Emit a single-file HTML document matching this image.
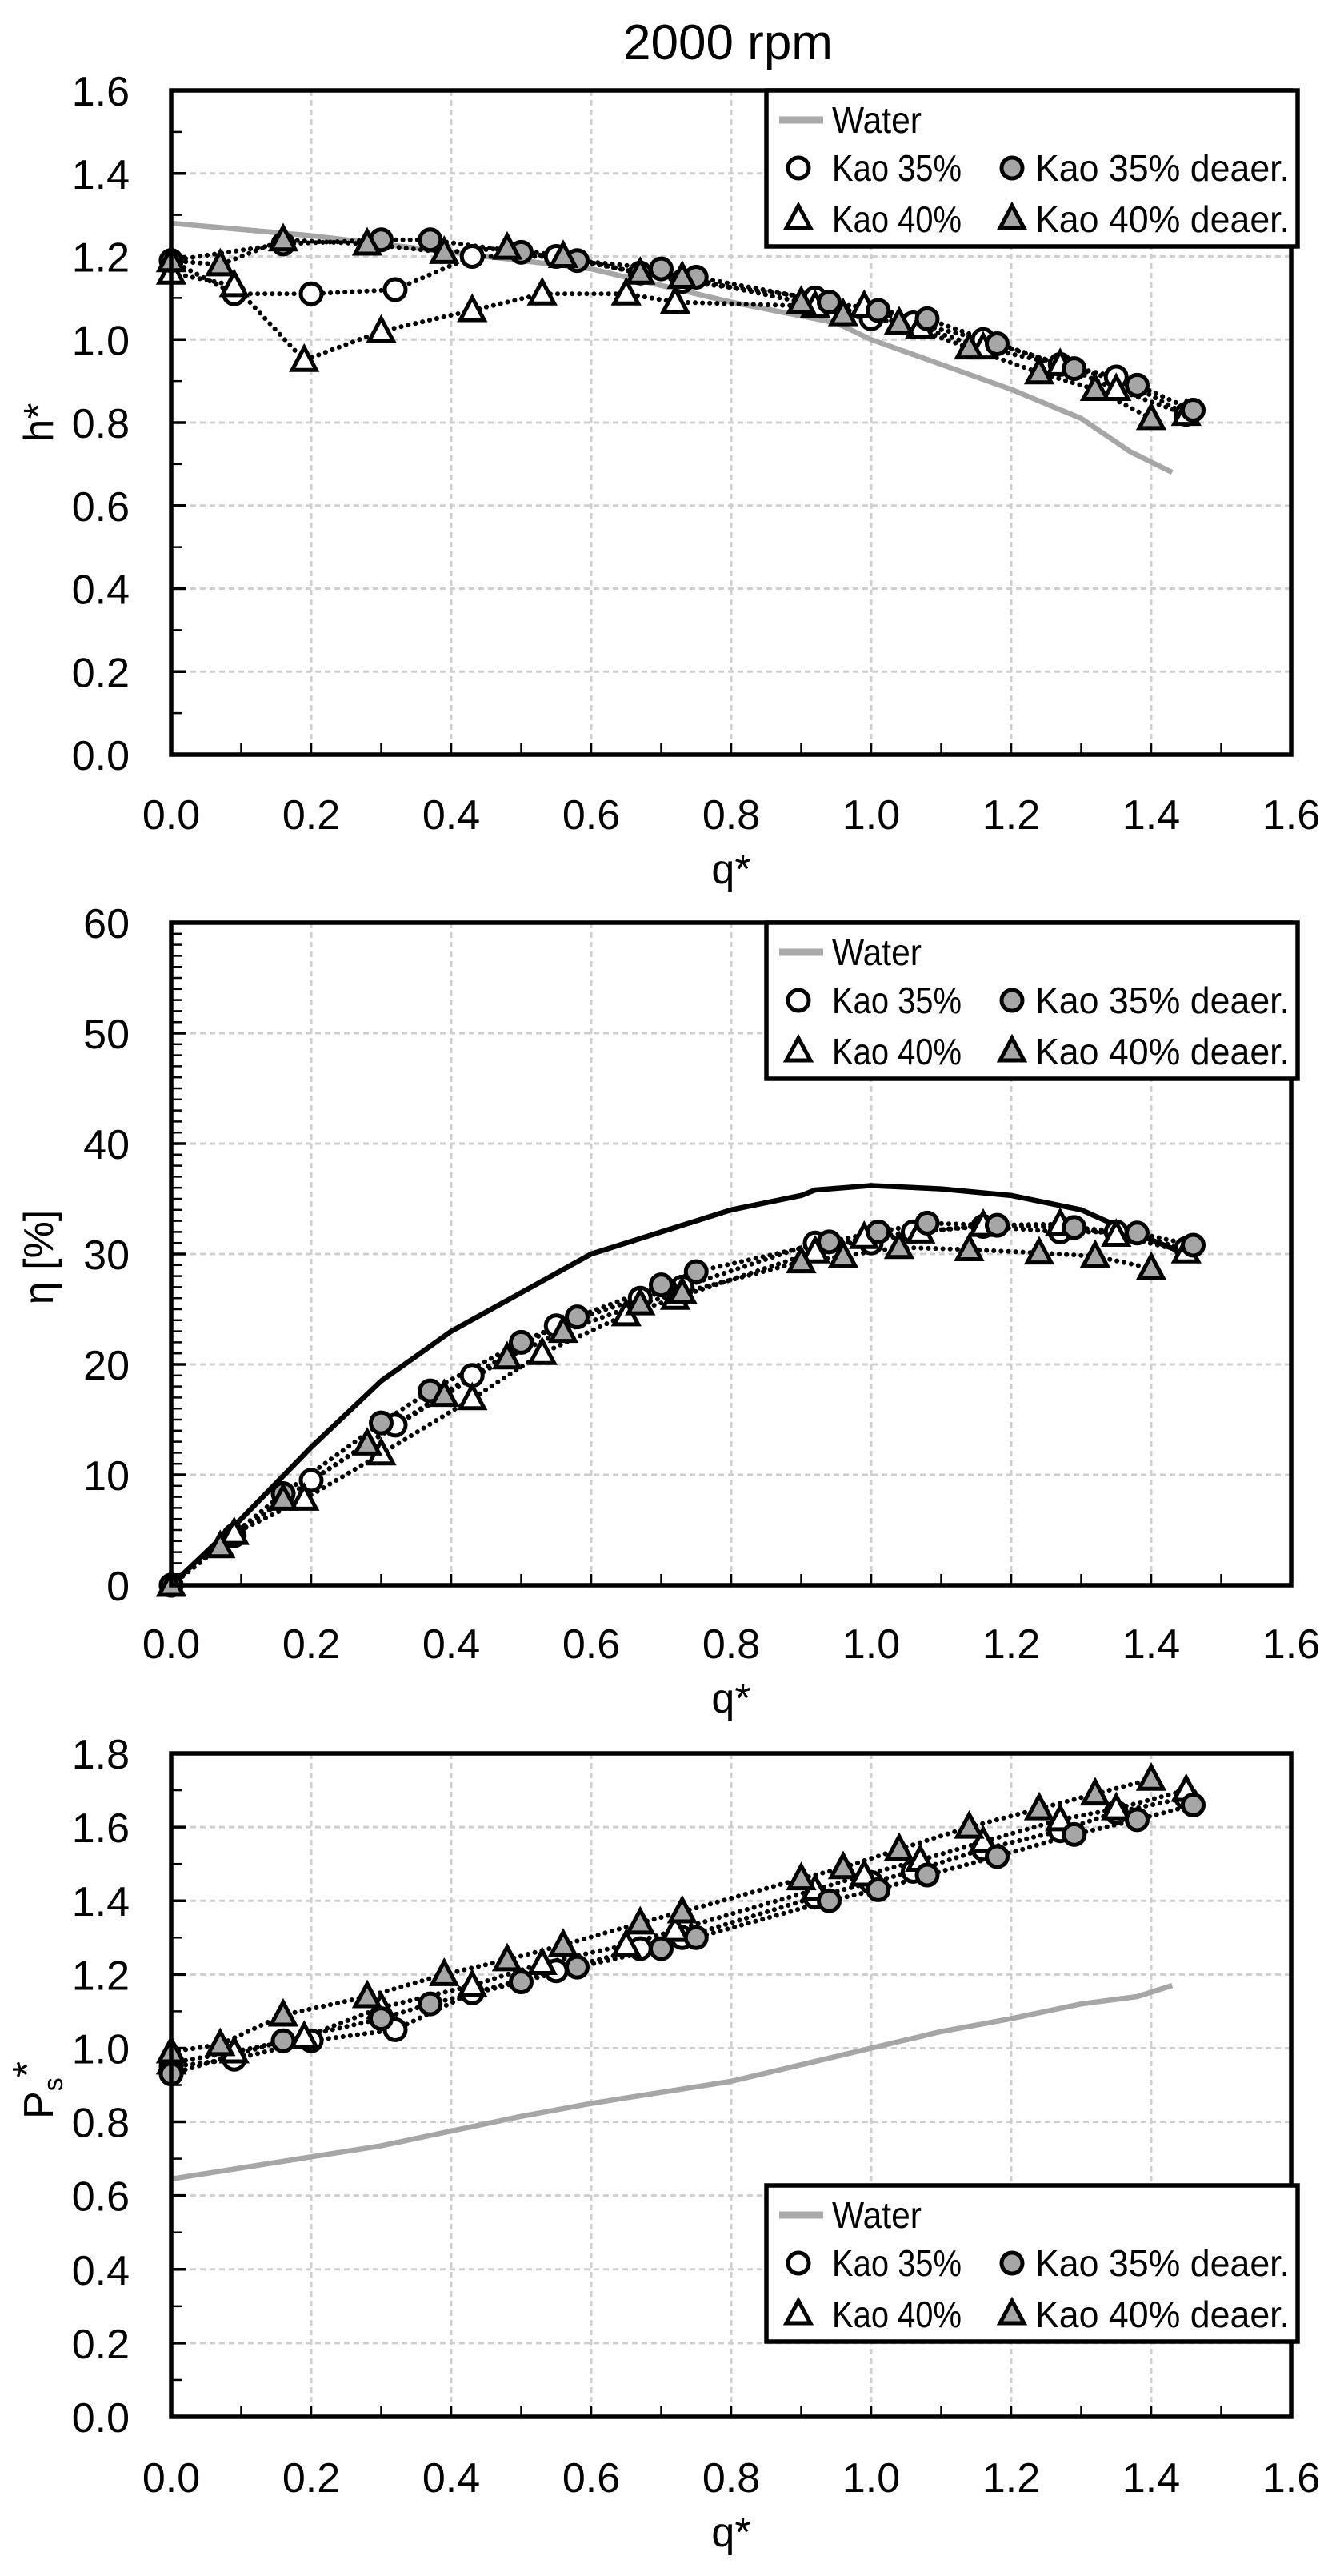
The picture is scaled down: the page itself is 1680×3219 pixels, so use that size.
<!DOCTYPE html>
<html><head><meta charset="utf-8"><style>
html,body{margin:0;padding:0;background:#fff;}
svg{display:block;}
text{font-family:"Liberation Sans",sans-serif;fill:#000;}
</style></head><body>
<svg id="s" width="1680" height="3219" xmlns="http://www.w3.org/2000/svg">
<text x="910" y="74" font-size="62" text-anchor="middle">2000 rpm</text>
</svg>
<script>
var S=document.getElementById('s'),NS='http://www.w3.org/2000/svg';
function el(t,a,txt){var e=document.createElementNS(NS,t);for(var k in a)e.setAttribute(k,a[k]);if(txt!=null)e.textContent=txt;S.appendChild(e);return e;}
var X0=214,XS=875;function X(q){return X0+q*XS;}
function chart(c){
 var top=c.top,bot=c.bot,Y=function(v){return bot-(v-c.ymin)/(c.ymax-c.ymin)*(bot-top);};
 for(var q=0.2;q<1.61;q+=0.2){if(q>1.59)continue;el('line',{x1:X(q),x2:X(q),y1:top,y2:bot,stroke:'#cfcfcf','stroke-width':3,'stroke-dasharray':'7 5'});}
 for(var v=c.ymin+c.ymaj;v<c.ymax-1e-9;v+=c.ymaj){el('line',{x1:X0,x2:X(1.6),y1:Y(v),y2:Y(v),stroke:'#cfcfcf','stroke-width':3,'stroke-dasharray':'7 5'});}
 for(var i=1;i<16;i++){el('line',{x1:X(i/10),x2:X(i/10),y1:bot,y2:bot-14,stroke:'#000','stroke-width':2.5});}
 var n=Math.round((c.ymax-c.ymin)/c.ymin2);
 for(var i=1;i<n;i++){var v=c.ymin+i*c.ymin2;var maj=Math.abs(v/c.ymaj-Math.round(v/c.ymaj))<1e-6;el('line',{x1:X0,x2:X0+(maj?18:14),y1:Y(v),y2:Y(v),stroke:'#000','stroke-width':maj?3.5:2.5});}
 for(var i=0;i<=8;i++){el('text',{x:X(i*0.2),y:c.xl,'font-size':52,'text-anchor':'middle'},(i*0.2).toFixed(1));}
 for(var v=c.ymin;v<=c.ymax+1e-9;v+=c.ymaj){el('text',{x:162,y:Y(v)+19,'font-size':52,'text-anchor':'end'},v.toFixed(c.dec));}
 el('text',{x:X(0.8),y:c.xl+68,'font-size':52,'text-anchor':'middle'},'q*');
 var yl=el('text',{x:0,y:0,'font-size':52,'text-anchor':'middle',transform:'translate(66,'+c.ylc+') rotate(-90)'});
 if(c.ps){var t1=document.createElementNS(NS,'tspan');t1.textContent='P';yl.appendChild(t1);var t2=document.createElementNS(NS,'tspan');t2.setAttribute('font-size','34');t2.setAttribute('dy','12');t2.textContent='s';yl.appendChild(t2);var t3=document.createElementNS(NS,'tspan');t3.setAttribute('dy','-26');t3.textContent='*';yl.appendChild(t3);}
 else yl.textContent=c.ylab;
 var p=c.water.map(function(d){return X(d[0])+','+Y(d[1]);}).join(' ');
 el('polyline',{points:p,fill:'none',stroke:c.wc,'stroke-width':6.5,'stroke-linejoin':'round'});
 var ser=c.ser;
 ser.forEach(function(s){el('polyline',{points:s.d.map(function(d){return X(d[0])+','+Y(d[1]);}).join(' '),fill:'none',stroke:'#000','stroke-width':6,'stroke-dasharray':'0.1 9','stroke-linecap':'round'});});
 ser.forEach(function(s){s.d.forEach(function(d){mk(s.t,X(d[0]),Y(d[1]));});});
 el('rect',{x:X0,y:top,width:X(1.6)-X0,height:bot-top,fill:'none',stroke:'#000','stroke-width':5.5});
 var lt=c.lt;
 el('rect',{x:958,y:lt,width:664,height:195,fill:'#fff',stroke:'#000','stroke-width':5.5});
 el('line',{x1:974,x2:1029,y1:lt+37,y2:lt+37,stroke:'#aaa','stroke-width':9});
 el('text',{x:1040,y:lt+53,'font-size':46,textLength:112,lengthAdjust:'spacingAndGlyphs'},'Water');
 mk('o',998,lt+97);el('text',{x:1040,y:lt+113,'font-size':46,textLength:162,lengthAdjust:'spacingAndGlyphs'},'Kao 35%');
 mk('og',1265,lt+97);el('text',{x:1294,y:lt+113,'font-size':46,textLength:318,lengthAdjust:'spacingAndGlyphs'},'Kao 35% deaer.');
 mk('t',998,lt+160);el('text',{x:1040,y:lt+177,'font-size':46,textLength:162,lengthAdjust:'spacingAndGlyphs'},'Kao 40%');
 mk('tg',1265,lt+160);el('text',{x:1294,y:lt+177,'font-size':46,textLength:318,lengthAdjust:'spacingAndGlyphs'},'Kao 40% deaer.');
}
function mk(t,x,y){
 var f=(t=='og'||t=='tg')?'#a6a6a6':'#fff';
 if(t[0]=='o')el('circle',{cx:x,cy:y,r:13,fill:f,stroke:'#000','stroke-width':5});
 else el('polygon',{points:(x)+','+(y-16)+' '+(x+15)+','+(y+12)+' '+(x-15)+','+(y+12),fill:f,stroke:'#000','stroke-width':5,'stroke-linejoin':'miter'});
}
chart({top:113,bot:943,ymin:0,ymax:1.6,ymaj:0.2,ymin2:0.1,dec:1,xl:1036,ylc:528,ylab:'h*',wc:'#a6a6a6',lt:113,
 water:[[0,1.28],[0.2,1.25],[0.45,1.2],[0.6,1.17],[0.8,1.09],[0.92,1.05],[0.95,1.04],[1.0,1.0],[1.1,0.94],[1.2,0.88],[1.3,0.81],[1.37,0.73],[1.43,0.68]],
 ser:[
 {t:'o',d:[[0,1.19],[0.09,1.11],[0.2,1.11],[0.32,1.12],[0.43,1.2],[0.55,1.2],[0.67,1.16],[0.73,1.14],[0.92,1.1],[1.0,1.05],[1.06,1.04],[1.16,1.0],[1.27,0.94],[1.35,0.91],[1.45,0.82]]},
 {t:'t',d:[[0,1.16],[0.09,1.13],[0.19,0.95],[0.3,1.02],[0.43,1.07],[0.53,1.11],[0.65,1.11],[0.72,1.09],[0.92,1.08],[0.99,1.08],[1.07,1.03],[1.16,0.98],[1.27,0.94],[1.35,0.88],[1.45,0.82]]},
 {t:'og',d:[[0,1.19],[0.16,1.23],[0.3,1.24],[0.37,1.24],[0.5,1.21],[0.58,1.19],[0.7,1.17],[0.75,1.15],[0.94,1.09],[1.01,1.07],[1.08,1.05],[1.18,0.99],[1.29,0.93],[1.38,0.89],[1.46,0.83]]},
 {t:'tg',d:[[0,1.19],[0.07,1.18],[0.16,1.24],[0.28,1.23],[0.39,1.21],[0.48,1.22],[0.56,1.2],[0.67,1.16],[0.73,1.15],[0.9,1.09],[0.96,1.06],[1.04,1.04],[1.14,0.98],[1.24,0.92],[1.32,0.88],[1.4,0.81]]}]});
chart({top:1153,bot:1981,ymin:0,ymax:60,ymaj:10,ymin2:1,dec:0,xl:2072,ylc:1571,ylab:'η [%]',wc:'#000',lt:1153,
 water:[[0,0],[0.1,6],[0.2,12.5],[0.3,18.5],[0.4,23],[0.5,26.5],[0.6,30],[0.7,32],[0.8,34],[0.9,35.3],[0.92,35.8],[1.0,36.2],[1.1,35.9],[1.2,35.3],[1.3,34],[1.36,32.3],[1.45,30]],
 ser:[
 {t:'o',d:[[0,0],[0.09,4.5],[0.2,9.5],[0.32,14.5],[0.43,19],[0.55,23.5],[0.67,26],[0.73,27],[0.92,31],[1.0,31],[1.06,32],[1.16,32.5],[1.27,32],[1.35,32],[1.45,30.5]]},
 {t:'t',d:[[0,0],[0.09,4.7],[0.19,7.8],[0.3,11.9],[0.43,16.9],[0.53,21],[0.65,24.5],[0.72,26],[0.92,30.2],[0.99,31.5],[1.07,32],[1.16,32.6],[1.27,32.7],[1.35,31.7],[1.45,30.2]]},
 {t:'og',d:[[0,0],[0.16,8.3],[0.3,14.7],[0.37,17.6],[0.5,22],[0.58,24.3],[0.7,27.2],[0.75,28.4],[0.94,31.1],[1.01,32],[1.08,32.8],[1.18,32.6],[1.29,32.4],[1.38,31.9],[1.46,30.8]]},
 {t:'tg',d:[[0,0],[0.07,3.5],[0.16,7.8],[0.28,12.8],[0.39,17.2],[0.48,20.6],[0.56,23],[0.67,25.5],[0.73,26.5],[0.9,29.3],[0.96,29.8],[1.04,30.6],[1.14,30.4],[1.24,30.1],[1.32,29.8],[1.4,28.7]]}]});
chart({top:2191,bot:3020,ymin:0,ymax:1.8,ymaj:0.2,ymin2:0.1,dec:1,xl:3114,ylc:2612,ps:1,wc:'#a6a6a6',lt:2731,
 water:[[0,0.645],[0.1,0.675],[0.2,0.705],[0.3,0.735],[0.4,0.775],[0.5,0.815],[0.6,0.85],[0.7,0.88],[0.8,0.91],[0.9,0.955],[1.0,1.0],[1.1,1.045],[1.2,1.08],[1.3,1.12],[1.38,1.14],[1.43,1.17]],
 ser:[
 {t:'o',d:[[0,0.95],[0.09,0.97],[0.2,1.02],[0.32,1.05],[0.43,1.15],[0.55,1.21],[0.67,1.27],[0.73,1.3],[0.92,1.41],[1.0,1.45],[1.06,1.48],[1.16,1.54],[1.27,1.59],[1.35,1.64],[1.45,1.68]]},
 {t:'t',d:[[0,0.96],[0.09,0.99],[0.19,1.03],[0.3,1.11],[0.43,1.17],[0.53,1.23],[0.65,1.28],[0.72,1.32],[0.92,1.43],[0.99,1.47],[1.07,1.51],[1.16,1.56],[1.27,1.62],[1.35,1.65],[1.45,1.7]]},
 {t:'og',d:[[0,0.93],[0.16,1.02],[0.3,1.08],[0.37,1.12],[0.5,1.18],[0.58,1.22],[0.7,1.27],[0.75,1.3],[0.94,1.4],[1.01,1.43],[1.08,1.47],[1.18,1.52],[1.29,1.58],[1.38,1.62],[1.46,1.66]]},
 {t:'tg',d:[[0,0.99],[0.07,1.01],[0.16,1.09],[0.28,1.14],[0.39,1.2],[0.48,1.24],[0.56,1.28],[0.67,1.34],[0.73,1.37],[0.9,1.46],[0.96,1.49],[1.04,1.54],[1.14,1.6],[1.24,1.65],[1.32,1.69],[1.4,1.73]]}]});
</script>
</body></html>
